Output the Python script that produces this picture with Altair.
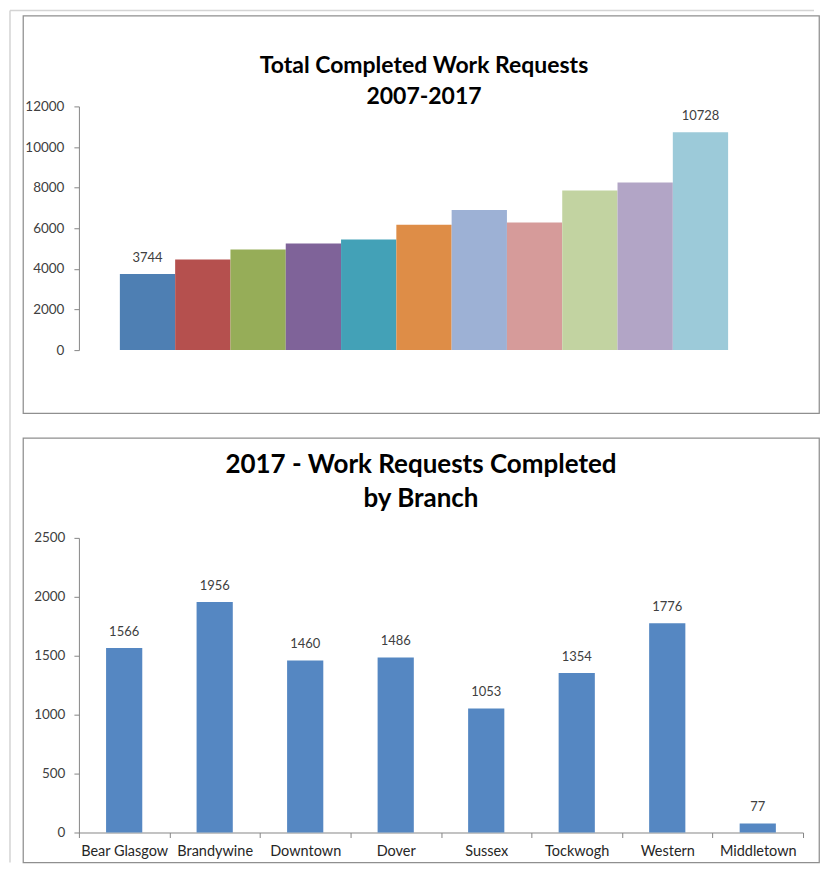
import altair as alt
import pandas as pd

# ---------------- data ----------------
years = ["2007", "2008", "2009", "2010", "2011", "2012",
         "2013", "2014", "2015", "2016", "2017"]
totals = [3744, 4460, 4950, 5250, 5450, 6170, 6900, 6280, 7860, 8250, 10728]
labelled_years = ["2007", "2017"]
year_colors = ["#4E7FB3", "#B5504E", "#96AD58", "#7F6399", "#43A1B7", "#DE8D47",
               "#9DB1D5", "#D69B9A", "#C2D3A1", "#B2A5C6", "#9CCAD9"]
top_ticks = [0, 2000, 4000, 6000, 8000, 10000, 12000]

branches = ["Bear Glasgow", "Brandywine", "Downtown", "Dover",
            "Sussex", "Tockwogh", "Western", "Middletown"]
branch_counts = [1566, 1956, 1460, 1486, 1053, 1354, 1776, 77]
bottom_ticks = [0, 500, 1000, 1500, 2000, 2500]

FONT = "Lato"
AXIS_GRAY = "#868686"
LABEL_GRAY = "#404040"

df_top = pd.DataFrame({"year": years, "total": totals})
df_bottom = pd.DataFrame({"branch": branches, "count": branch_counts})
df_dummy = pd.DataFrame({"k": [0]})

# ---------------- top panel ----------------
x_top = alt.X("year:N", sort=years,
              scale=alt.Scale(range=[97, 706], paddingInner=0, paddingOuter=0),
              axis=None)
y_top = alt.Y("total:Q",
              scale=alt.Scale(domain=[0, 12000], range=[335, 91], nice=False),
              axis=alt.Axis(values=top_ticks, format="d", offset=-56, title=None,
                            grid=False, domainColor=AXIS_GRAY, tickColor=AXIS_GRAY,
                            tickSize=5, labelPadding=10, labelFont=FONT,
                            labelFontSize=13.5, labelColor=LABEL_GRAY))

bars_top = alt.Chart(df_top).mark_bar().encode(
    x=x_top, y=y_top,
    color=alt.Color("year:N", sort=years,
                    scale=alt.Scale(domain=years, range=year_colors), legend=None),
)
text_top = alt.Chart(df_top).transform_filter(
    alt.FieldOneOfPredicate(field="year", oneOf=labelled_years)
).mark_text(dy=-16, baseline="middle", font=FONT, fontSize=13, color=LABEL_GRAY).encode(
    x=x_top, y=y_top, text="total:Q"
)

frame_v = alt.Chart(df_dummy).mark_rule(color="#d4d4d4", strokeWidth=1.5).encode(
    x=alt.value(-13), y=alt.value(-5), y2=alt.value(848))
frame_h = alt.Chart(df_dummy).mark_rule(color="#d4d4d4", strokeWidth=1.5).encode(
    y=alt.value(-5), x=alt.value(-13), x2=alt.value(792))

top = alt.layer(frame_v, frame_h, bars_top, text_top).properties(
    width=797, height=398,
    title=alt.Title(["Total Completed Work Requests", "2007-2017"],
                    font=FONT, fontSize=23, fontWeight="bold", color="#000000",
                    anchor="middle", frame="group", offset=-99, dx=3, lineHeight=31),
)

# ---------------- bottom panel ----------------
x_bot = alt.X("branch:N", sort=branches,
              scale=alt.Scale(range=[56, 781], paddingInner=0, paddingOuter=0),
              axis=alt.Axis(title=None, offset=-30, labelAngle=0, tickBand="extent",
                            domainColor=AXIS_GRAY, tickColor=AXIS_GRAY, tickSize=5,
                            labelPadding=7, labelFont=FONT, labelFontSize=14.5,
                            labelColor="#262626"))
y_bot = alt.Y("count:Q",
              scale=alt.Scale(domain=[0, 2500], range=[395, 100], nice=False),
              axis=alt.Axis(values=bottom_ticks, format="d", offset=-56, title=None,
                            grid=False, domainColor=AXIS_GRAY, tickColor=AXIS_GRAY,
                            tickSize=5, labelPadding=9, labelFont=FONT,
                            labelFontSize=13.5, labelColor=LABEL_GRAY))

bars_bot = alt.Chart(df_bottom).mark_bar(color="#5587C2",
                                         width=alt.RelativeBandSize(0.4)).encode(
    x=x_bot, y=y_bot)
text_bot = alt.Chart(df_bottom).mark_text(dy=-16, baseline="middle", font=FONT,
                                          fontSize=13, color=LABEL_GRAY).encode(
    x=x_bot, y=y_bot, text="count:Q")

bottom = alt.layer(bars_bot, text_bot).properties(
    width=797, height=425,
    title=alt.Title(["2017 - Work Requests Completed", "by Branch"],
                    font=FONT, fontSize=26, fontWeight="bold", color="#000000",
                    anchor="middle", frame="group", offset=-74, dx=0, lineHeight=34),
)

chart = alt.vconcat(top, bottom, spacing=25, bounds="flush", padding=0).configure(
    background="white"
).configure_view(stroke="#8f8f8f", strokeWidth=1.25)

chart.save("out.html", embed_options={"renderer": "svg", "actions": False})
